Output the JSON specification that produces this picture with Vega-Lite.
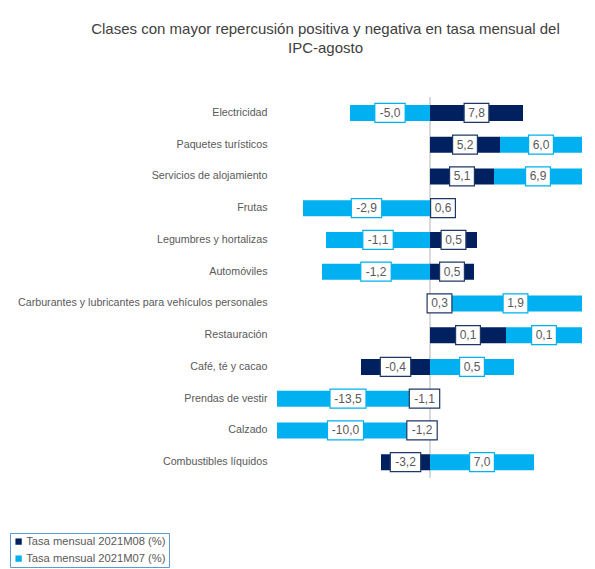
{
  "$schema": "https://vega.github.io/schema/vega-lite/v6.json",
  "autosize": {"type": "none"},
  "padding": {"left": 277, "top": 97, "right": 13, "bottom": 91},
  "width": 305,
  "height": 381,
  "background": "white",
  "config": {
    "view": {"stroke": null},
    "font": "Liberation Sans",
    "locale": {"number": {"decimal": ",", "thousands": ".", "grouping": [3], "currency": ["", " €"], "minus": "-"}}
  },
  "title": {
    "text": ["Clases con mayor repercusión positiva y negativa en tasa mensual del", "IPC-agosto"],
    "anchor": "middle",
    "frame": "group",
    "dx": -104,
    "offset": 41,
    "fontSize": 15,
    "fontWeight": "normal",
    "color": "#404040",
    "lineHeight": 19,
    "font": "Liberation Sans"
  },
  "data": {
    "values": [
      {"cat": "Electricidad", "serie": "Tasa mensual 2021M08 (%)", "rep": 0.93, "tasa": 7.8},
      {"cat": "Electricidad", "serie": "Tasa mensual 2021M07 (%)", "rep": -0.80, "tasa": -5.0},
      {"cat": "Paquetes turísticos", "serie": "Tasa mensual 2021M08 (%)", "rep": 0.70, "tasa": 5.2},
      {"cat": "Paquetes turísticos", "serie": "Tasa mensual 2021M07 (%)", "rep": 0.95, "tasa": 6.0},
      {"cat": "Servicios de alojamiento", "serie": "Tasa mensual 2021M08 (%)", "rep": 0.64, "tasa": 5.1},
      {"cat": "Servicios de alojamiento", "serie": "Tasa mensual 2021M07 (%)", "rep": 1.00, "tasa": 6.9},
      {"cat": "Frutas", "serie": "Tasa mensual 2021M08 (%)", "rep": 0.26, "tasa": 0.6},
      {"cat": "Frutas", "serie": "Tasa mensual 2021M07 (%)", "rep": -1.27, "tasa": -2.9},
      {"cat": "Legumbres y hortalizas", "serie": "Tasa mensual 2021M08 (%)", "rep": 0.47, "tasa": 0.5},
      {"cat": "Legumbres y hortalizas", "serie": "Tasa mensual 2021M07 (%)", "rep": -1.04, "tasa": -1.1},
      {"cat": "Automóviles", "serie": "Tasa mensual 2021M08 (%)", "rep": 0.44, "tasa": 0.5},
      {"cat": "Automóviles", "serie": "Tasa mensual 2021M07 (%)", "rep": -1.08, "tasa": -1.2},
      {"cat": "Carburantes y lubricantes para vehículos personales", "serie": "Tasa mensual 2021M08 (%)", "rep": 0.19, "tasa": 0.3},
      {"cat": "Carburantes y lubricantes para vehículos personales", "serie": "Tasa mensual 2021M07 (%)", "rep": 1.50, "tasa": 1.9},
      {"cat": "Restauración", "serie": "Tasa mensual 2021M08 (%)", "rep": 0.76, "tasa": 0.1},
      {"cat": "Restauración", "serie": "Tasa mensual 2021M07 (%)", "rep": 0.85, "tasa": 0.1},
      {"cat": "Café, té y cacao", "serie": "Tasa mensual 2021M08 (%)", "rep": -0.69, "tasa": -0.4},
      {"cat": "Café, té y cacao", "serie": "Tasa mensual 2021M07 (%)", "rep": 0.84, "tasa": 0.5},
      {"cat": "Prendas de vestir", "serie": "Tasa mensual 2021M08 (%)", "rep": -0.11, "tasa": -1.1},
      {"cat": "Prendas de vestir", "serie": "Tasa mensual 2021M07 (%)", "rep": -1.60, "tasa": -13.5},
      {"cat": "Calzado", "serie": "Tasa mensual 2021M08 (%)", "rep": -0.16, "tasa": -1.2},
      {"cat": "Calzado", "serie": "Tasa mensual 2021M07 (%)", "rep": -1.60, "tasa": -10.0},
      {"cat": "Combustibles líquidos", "serie": "Tasa mensual 2021M08 (%)", "rep": -0.49, "tasa": -3.2},
      {"cat": "Combustibles líquidos", "serie": "Tasa mensual 2021M07 (%)", "rep": 1.04, "tasa": 7.0}
    ]
  },
  "transform": [
    {"stack": "rep", "groupby": ["cat"], "sort": [{"field": "serie", "order": "descending"}], "as": ["x0", "x1"], "offset": "zero"},
    {"calculate": "(clamp(datum.x0, -1.53, 1.52) + clamp(datum.x1, -1.53, 1.52)) / 2", "as": "mid"},
    {"calculate": "(((datum.tasa < 0 ? 1 : 0) + (abs(datum.tasa) >= 10 ? 4 : 3)) * 5.6 + 8) / 200", "as": "hw"},
    {"calculate": "datum.mid - datum.hw", "as": "bx0"},
    {"calculate": "datum.mid + datum.hw", "as": "bx1"}
  ],
  "layer": [
    {
      "mark": {"type": "rule", "color": "#d9d9d9", "strokeWidth": 1},
      "encoding": {"x": {"datum": 0, "type": "quantitative", "scale": {"domain": [-1.53, 1.52], "nice": false, "zero": false}, "axis": null}}
    },
    {
      "mark": {"type": "bar", "clip": true, "size": 16},
      "encoding": {
        "y": {
          "field": "cat",
          "type": "nominal",
          "sort": ["Electricidad", "Paquetes turísticos", "Servicios de alojamiento", "Frutas", "Legumbres y hortalizas", "Automóviles", "Carburantes y lubricantes para vehículos personales", "Restauración", "Café, té y cacao", "Prendas de vestir", "Calzado", "Combustibles líquidos"],
          "scale": {"paddingInner": 0.5, "paddingOuter": 0.25},
          "axis": {
            "title": null,
            "domain": false,
            "ticks": false,
            "labelPadding": 10,
            "labelFontSize": 10.7,
            "labelColor": "#595959",
            "labelFont": "Liberation Sans",
            "labelLimit": 400
          }
        },
        "x": {"field": "x0", "type": "quantitative"},
        "x2": {"field": "x1"},
        "color": {
          "field": "serie",
          "type": "nominal",
          "scale": {"domain": ["Tasa mensual 2021M08 (%)", "Tasa mensual 2021M07 (%)"], "range": ["#002060", "#00B0F0"]},
          "legend": {
            "title": null,
            "orient": "none",
            "legendX": -267,
            "legendY": 436,
            "direction": "vertical",
            "symbolType": "square",
            "symbolSize": 40,
            "symbolStrokeWidth": 0,
            "labelFontSize": 11.2,
            "labelColor": "#595959",
            "labelFont": "Liberation Sans",
            "labelOffset": 2,
            "rowPadding": 5,
            "padding": 3,
            "strokeColor": "#5B9BD5",
            "fillColor": "white"
          }
        }
      }
    },
    {
      "mark": {"type": "bar", "size": 19, "fill": "white", "strokeWidth": 1.2},
      "encoding": {
        "y": {"field": "cat", "type": "nominal", "sort": ["Electricidad", "Paquetes turísticos", "Servicios de alojamiento", "Frutas", "Legumbres y hortalizas", "Automóviles", "Carburantes y lubricantes para vehículos personales", "Restauración", "Café, té y cacao", "Prendas de vestir", "Calzado", "Combustibles líquidos"]},
        "x": {"field": "bx0", "type": "quantitative"},
        "x2": {"field": "bx1"},
        "stroke": {
          "field": "serie",
          "type": "nominal",
          "scale": {"domain": ["Tasa mensual 2021M08 (%)", "Tasa mensual 2021M07 (%)"], "range": ["#203864", "#00B0F0"]},
          "legend": null
        }
      }
    },
    {
      "mark": {"type": "text", "fontSize": 12, "color": "#595959", "align": "center", "baseline": "middle", "font": "Liberation Sans"},
      "encoding": {
        "y": {"field": "cat", "type": "nominal", "sort": ["Electricidad", "Paquetes turísticos", "Servicios de alojamiento", "Frutas", "Legumbres y hortalizas", "Automóviles", "Carburantes y lubricantes para vehículos personales", "Restauración", "Café, té y cacao", "Prendas de vestir", "Calzado", "Combustibles líquidos"]},
        "x": {"field": "mid", "type": "quantitative"},
        "text": {"field": "tasa", "type": "quantitative", "format": ".1f"}
      }
    }
  ]
}
